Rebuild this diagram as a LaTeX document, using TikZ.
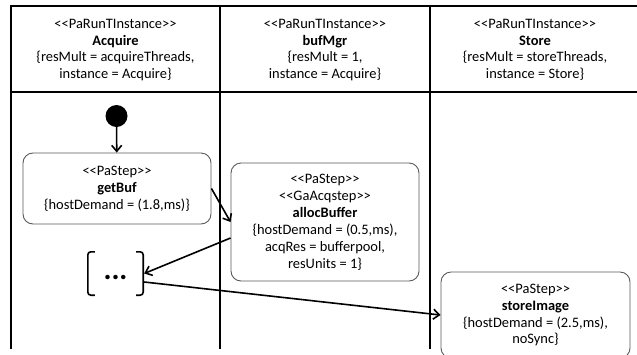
\documentclass[tikz,border=0pt]{standalone}
\usepackage{fontspec}
\setmainfont{Carlito}
\usepackage{tikz}
\usetikzlibrary{positioning,arrows.meta}

% stereotype brackets without the guillemet ligature
\newcommand{\stereo}[1]{<{}<#1>{}>}

\begin{document}
\begin{tikzpicture}[x=1bp,y=-1bp,
    lanehead/.style={align=center,font=\fontsize{14.5}{16.7}\selectfont},
    stepbox/.style={draw=black!65,line width=0.9bp,rounded corners=10bp,align=center,
        font=\fontsize{14.5}{17}\selectfont,inner sep=0pt},
    flow/.style={-{Straight Barb[length=6bp,width=10bp]},line width=1.6bp},
    lane/.style={line width=2bp}]
    \useasboundingbox (0,0) rectangle (637,354);
    \clip (0,0) rectangle (637,354);

    % Swimlanes
    \draw[lane] (11,349) -- (11,6) -- (645,6);
    \draw[lane] (11,92) -- (645,92);
    \draw[lane] (220,6) -- (220,349);
    \draw[lane] (430,6) -- (430,349);

    % Lane headers
    \node[lanehead] (hAcquire) at (115.5,50) {\stereo{PaRunTInstance}\\\textbf{Acquire}\\\{resMult = acquireThreads,\\instance = Acquire\}};
    \node[lanehead] (hBufMgr) at (325,50) {\stereo{PaRunTInstance}\\\textbf{bufMgr}\\\{resMult = 1,\\instance = Acquire\}};
    \node[lanehead] (hStore) at (535,50) {\stereo{PaRunTInstance}\\\textbf{Store}\\\{resMult = storeThreads,\\instance = Store\}};

    % Steps
    \node[circle,fill=black,minimum size=22bp,inner sep=0pt] (start) at (116.5,116) {};
    \node[stepbox,minimum width=188bp,minimum height=71bp] (getBuf) at (117,188.5) {\stereo{PaStep}\\\textbf{getBuf}\\\{hostDemand = (1.8,ms)\}};
    \node[stepbox,minimum width=188bp,minimum height=118bp] (allocBuffer) at (325,222) {\stereo{PaStep}\\\stereo{GaAcqstep}\\\textbf{allocBuffer}\\\{hostDemand = (0.5,ms),\\acqRes = bufferpool,\\resUnits = 1\}};
    \node[stepbox,minimum width=189bp,minimum height=86bp] (storeImage) at (535.5,315) {\stereo{PaStep}\\\textbf{storeImage}\\\{hostDemand = (2.5,ms),\\noSync\}};

    % Elided part
    \node[minimum width=55bp,minimum height=43bp,inner sep=0pt,font=\fontsize{30}{30}\selectfont] (more) at (115.5,273.5) {\raisebox{-0.9ex}{\textbf{...}}};
    \draw[line width=1.6bp,rounded corners=3bp] ([xshift=7bp]more.north west) -- (more.north west) -- (more.south west) -- ([xshift=7bp]more.south west);
    \draw[line width=1.6bp,rounded corners=3bp] ([xshift=-7bp]more.north east) -- (more.north east) -- (more.south east) -- ([xshift=-7bp]more.south east);

    % Control flow
    \draw[flow] (start) -- (getBuf);
    \draw[flow] (getBuf.east) -- (allocBuffer.west);
    \draw[flow] ([yshift=-16bp]allocBuffer.west) -- ([xshift=1bp]more.east);
    \draw[flow] ([xshift=1bp,yshift=-8.5bp]more.east) -- (storeImage.west);
\end{tikzpicture}
\end{document}
